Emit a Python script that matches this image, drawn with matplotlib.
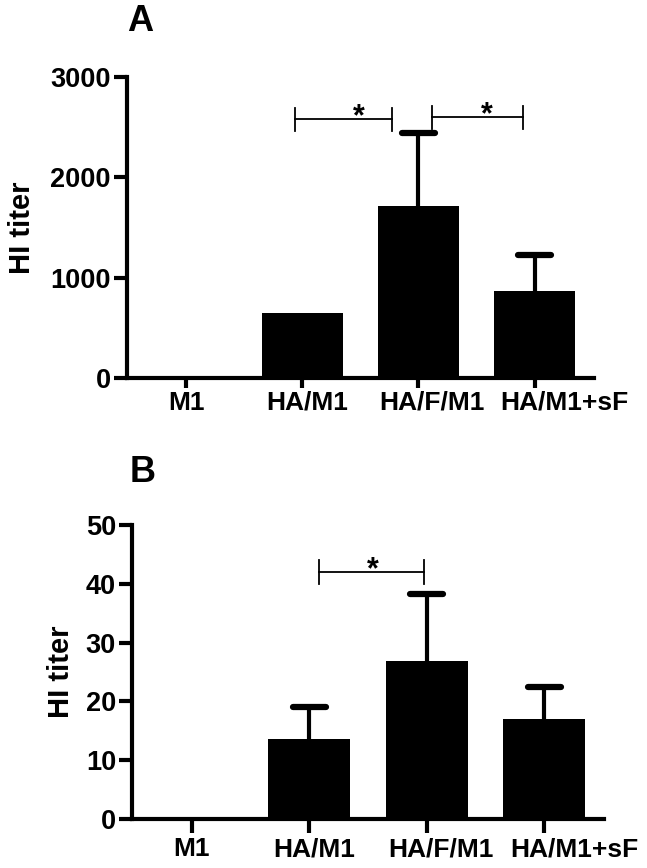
import numpy as np
import matplotlib
matplotlib.use('Agg')
import matplotlib.pyplot as plt

plt.rcParams['font.family'] = ['Liberation Sans', 'DejaVu Sans']
plt.rcParams['font.weight'] = 'bold'

groups = ['M1', 'HA/M1', 'HA/F/M1', 'HA/M1+sF']

# panel A: HI titer, mean and upper SD
a_mean = [0, 645, 1715, 865]
a_err = [0, 0, 730, 360]
# brackets: (left, right, height, star x)
a_sig = [(0.94, 1.77, 2580, 1.49), (2.12, 2.90, 2600, 2.59)]

# panel B
b_mean = [0, 13.6, 26.9, 17.0]
b_err = [0, 5.4, 11.3, 5.4]
b_sig = [(1.08, 1.98, 42.0, 1.54)]

# labels sit a bit right of their ticks in the original (points)
label_shift = [0, 3.6, 10, 21.6]

x = np.arange(len(groups))


def panel(ax, mean, err, sig, ymax, ystep, tick_h, letter, lx, ly, lpad,
          xlen, ldrop):
    ax.bar(x, mean, width=0.7, color='black', zorder=2)
    for xi, m, e in zip(x, mean, err):
        if e > 0:
            ax.plot([xi, xi], [m, m + e], color='black', lw=3, zorder=1)
            ax.plot([xi - 0.14, xi + 0.14], [m + e, m + e], color='black',
                    lw=4.5, solid_capstyle='round', zorder=1)
    for x0, x1, y, sx in sig:
        ax.plot([x0, x1], [y, y], color='black', lw=1.3)
        ax.plot([x0, x0], [y - tick_h, y + tick_h], color='black', lw=1.3)
        ax.plot([x1, x1], [y - tick_h, y + tick_h], color='black', lw=1.3)
        ax.text(sx, y - tick_h * 1.15, '*', ha='center', va='bottom',
                fontsize=22, fontweight='bold')
    ax.set_xlim(-0.51, 3.51)
    ax.set_ylim(0, ymax)
    ax.set_yticks(np.arange(0, ymax + 1, ystep))
    ax.set_xticks(x)
    ax.set_xticklabels([])
    for xi, g, dx in zip(x, groups, label_shift):
        ax.annotate(g, (xi, 0), xycoords=('data', 'axes fraction'),
                    xytext=(dx, -ldrop), textcoords='offset points',
                    ha='center', va='top', fontsize=19, fontweight='bold',
                    annotation_clip=False)
    ax.set_ylabel('HI titer', fontsize=21, fontweight='bold', labelpad=lpad)
    for s in ['top', 'right']:
        ax.spines[s].set_visible(False)
    for s in ['left', 'bottom']:
        ax.spines[s].set_linewidth(3)
    ax.tick_params(axis='y', length=9.5, width=3, labelsize=19.5, pad=2)
    ax.tick_params(axis='x', length=xlen, width=3)
    fig.text(lx, ly, letter, fontsize=26, fontweight='bold', va='center')


fig = plt.figure(figsize=(6.47, 8.68), dpi=100)
ax1 = fig.add_axes([0.196, 0.5645, 0.722, 0.3467])
ax2 = fig.add_axes([0.204, 0.05645, 0.7295, 0.3387])

panel(ax1, a_mean, a_err, a_sig, 3000, 1000, 115, 'A', 0.196, 0.975, 10,
      7.2, 9)
panel(ax2, b_mean, b_err, b_sig, 50, 10, 2, 'B', 0.200, 0.456, 8,
      10, 13.3)

fig.savefig('out.png', dpi=100)
